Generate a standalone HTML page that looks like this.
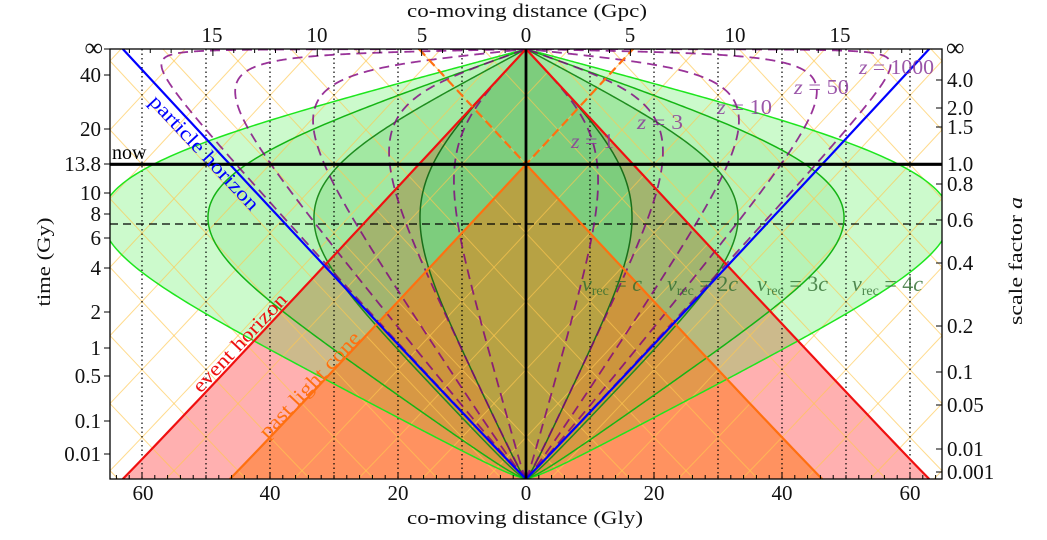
<!DOCTYPE html>
<html><head><meta charset="utf-8">
<style>
html,body{margin:0;padding:0;background:#fff;}
svg{display:block;font-family:"Liberation Serif","DejaVu Serif",serif;}
</style></head><body>
<svg id="s" width="1047" height="540" viewBox="0 0 1047 540" xmlns="http://www.w3.org/2000/svg">
<defs><clipPath id="cp"><rect x="110" y="49" width="832" height="430"/></clipPath></defs>
<rect x="0" y="0" width="1047" height="540" fill="#fff"/>
<g id="plot" clip-path="url(#cp)"></g>
<g id="ticks"></g>

<!-- in-plot labels -->
<g font-size="20">
<text x="112" y="159" fill="#000">now</text>
<text transform="translate(204,153) rotate(46.8)" text-anchor="middle" dy="6" fill="#0000ff" textLength="150" lengthAdjust="spacingAndGlyphs">particle horizon</text>
<text transform="translate(240,343) rotate(-46.8)" text-anchor="middle" dy="6" fill="#ee1111" textLength="128" lengthAdjust="spacingAndGlyphs">event horizon</text>
<text transform="translate(310,385) rotate(-46.8)" text-anchor="middle" dy="6" fill="#ff7010" textLength="138" lengthAdjust="spacingAndGlyphs">past light cone</text>
</g>
<g font-size="21" fill="#8a3a9a" fill-opacity="0.85">
<text x="571" y="148" textLength="43" lengthAdjust="spacingAndGlyphs"><tspan font-style="italic">z</tspan> = 1</text>
<text x="637" y="129" textLength="46" lengthAdjust="spacingAndGlyphs"><tspan font-style="italic">z</tspan> = 3</text>
<text x="717" y="114" textLength="55" lengthAdjust="spacingAndGlyphs"><tspan font-style="italic">z</tspan> = 10</text>
<text x="794" y="94" textLength="55" lengthAdjust="spacingAndGlyphs"><tspan font-style="italic">z</tspan> = 50</text>
<text x="859" y="74" textLength="75" lengthAdjust="spacingAndGlyphs"><tspan font-style="italic">z</tspan> = 1000</text>
</g>
<g font-size="22" fill="#2e6b2e" fill-opacity="0.8">
<text x="582" y="291"><tspan font-style="italic">v</tspan><tspan font-size="14" dy="4">rec</tspan><tspan dy="-4"> = </tspan><tspan font-style="italic">c</tspan></text>
<text x="667" y="291"><tspan font-style="italic">v</tspan><tspan font-size="14" dy="4">rec</tspan><tspan dy="-4"> = 2</tspan><tspan font-style="italic">c</tspan></text>
<text x="757" y="291"><tspan font-style="italic">v</tspan><tspan font-size="14" dy="4">rec</tspan><tspan dy="-4"> = 3</tspan><tspan font-style="italic">c</tspan></text>
<text x="852" y="291"><tspan font-style="italic">v</tspan><tspan font-size="14" dy="4">rec</tspan><tspan dy="-4"> = 4</tspan><tspan font-style="italic">c</tspan></text>
</g>

<!-- axis frame -->
<rect x="110" y="49" width="832" height="430" fill="none" stroke="#000" stroke-width="1.3"/>

<!-- axis labels -->
<g font-size="19" fill="#111">
<text x="407" y="17" textLength="240" lengthAdjust="spacingAndGlyphs">co-moving distance (Gpc)</text>
<text x="407" y="524" textLength="236" lengthAdjust="spacingAndGlyphs">co-moving distance (Gly)</text>
<text transform="translate(50,262) rotate(-90)" text-anchor="middle" textLength="89" lengthAdjust="spacingAndGlyphs">time (Gy)</text>
<text transform="translate(1022,261) rotate(-90)" text-anchor="middle" textLength="128" lengthAdjust="spacingAndGlyphs">scale factor <tspan font-style="italic">a</tspan></text>
</g>

<!-- top tick labels -->
<g font-size="21" fill="#111" text-anchor="middle">
<text x="212" y="42">15</text>
<text x="317" y="42">10</text>
<text x="422" y="42">5</text>
<text x="526" y="42">0</text>
<text x="630" y="42">5</text>
<text x="735" y="42">10</text>
<text x="840" y="42">15</text>
</g>
<!-- bottom tick labels -->
<g font-size="21" fill="#111" text-anchor="middle">
<text x="143" y="500">60</text>
<text x="270" y="500">40</text>
<text x="398" y="500">20</text>
<text x="526" y="500">0</text>
<text x="654" y="500">20</text>
<text x="782" y="500">40</text>
<text x="910" y="500">60</text>
</g>
<!-- left tick labels -->
<g font-size="21" fill="#111" text-anchor="end">
<text x="103" y="56" font-size="26">∞</text>
<text x="101" y="82">40</text>
<text x="101" y="136">20</text>
<text x="101" y="171">13.8</text>
<text x="101" y="200">10</text>
<text x="101" y="221">8</text>
<text x="101" y="245">6</text>
<text x="101" y="275">4</text>
<text x="101" y="319">2</text>
<text x="101" y="355">1</text>
<text x="101" y="383">0.5</text>
<text x="101" y="428">0.1</text>
<text x="101" y="461">0.01</text>
</g>
<!-- right tick labels -->
<g font-size="21" fill="#111" text-anchor="start">
<text x="946" y="56" font-size="26">∞</text>
<text x="947" y="87">4.0</text>
<text x="947" y="115">2.0</text>
<text x="947" y="134">1.5</text>
<text x="947" y="171">1.0</text>
<text x="947" y="191">0.8</text>
<text x="947" y="227">0.6</text>
<text x="947" y="270">0.4</text>
<text x="947" y="333">0.2</text>
<text x="947" y="379">0.1</text>
<text x="947" y="412">0.05</text>
<text x="947" y="456">0.01</text>
<text x="947" y="479">0.001</text>
</g>
</svg>
<script>
(function(){
var NS='http://www.w3.org/2000/svg';
var G=document.getElementById('plot'), T=document.getElementById('ticks');
function el(par,tag,at){var e=document.createElementNS(NS,tag);for(var k in at)e.setAttribute(k,at[k]);par.appendChild(e);return e;}
function P(pts){var s='M'+pts[0][0].toFixed(2)+','+pts[0][1].toFixed(2);for(var i=1;i<pts.length;i++)s+='L'+pts[i][0].toFixed(2)+','+pts[i][1].toFixed(2);return s;}

var Om=0.315, Or=9.1e-5, OL=1-Om-Or;
var L0=-16, L1=12, N=28000, h=(L1-L0)/N;
function F(a){return 1/Math.sqrt(Or/(a*a)+Om/a+OL*a*a);}
var eta=new Float64Array(N+1);
eta[0]=Math.exp(L0)/Math.sqrt(Or);
var prev=F(Math.exp(L0));
for(var i=1;i<=N;i++){var f=F(Math.exp(L0+i*h));eta[i]=eta[i-1]+0.5*h*(prev+f);prev=f;}
var etaInf=eta[N]+1/(Math.sqrt(OL)*Math.exp(L1));
function etaA(a){var l=Math.log(a);if(l<=L0)return a/Math.sqrt(Or);if(l>=L1)return etaInf-1/(Math.sqrt(OL)*a);var p=(l-L0)/h,j=Math.floor(p),t=p-j;if(j>=N)return eta[N];return eta[j]*(1-t)+eta[j+1]*t;}
var eta0=etaA(1);
var CH=14.55;
var X0=526, SX=6.4*CH, YB=479;
var pw=Math.log(314.7/430)/Math.log(eta0/etaInf);
function px(x){return X0+x*SX;}
function py(e){var r=e/etaInf;if(r<0)r=0;return YB-430*Math.pow(r,pw);}
var y0=py(eta0), yT=py(etaInf);
function seg(x1,e1,x2,e2){var r=[];for(var k=0;k<=60;k++){var t=k/60;r.push([px(x1+(x2-x1)*t),py(e1+(e2-e1)*t)]);}return r;}

// pink event-horizon region
el(G,'path',{d:P(seg(-etaInf,0,0,etaInf).concat(seg(0,etaInf,etaInf,0)))+'Z',fill:'#ff0000','fill-opacity':'0.31'});

// v_rec regions
function vc(n){var R=[];for(var i=0;i<=N;i+=20){var a=Math.exp(L0+i*h);R.push([px(n*F(a)),py(eta[i])]);}
 R.push([X0,yT]);
 var Lf=[];for(var k=R.length-1;k>=0;k--)Lf.push([2*X0-R[k][0],R[k][1]]);
 return {fill:P(R.concat(Lf))+'Z',r:P(R),l:P(Lf)};}
var c4=vc(4),c3=vc(3),c2=vc(2),c1=vc(1);
el(G,'path',{d:c4.fill,fill:'#00e600','fill-opacity':'0.2'});
el(G,'path',{d:c3.fill,fill:'#00be00','fill-opacity':'0.1'});
el(G,'path',{d:c2.fill,fill:'#009600','fill-opacity':'0.11'});
el(G,'path',{d:c1.fill,fill:'#7dcd7d'});

// orange past light cone region
el(G,'path',{d:P(seg(-eta0,0,0,eta0).concat(seg(0,eta0,eta0,0)))+'Z',fill:'#ff6e00','fill-opacity':'0.45'});

// light-ray grid
var gg=el(G,'g',{stroke:'#ffc850','stroke-opacity':'0.65','stroke-width':'1',fill:'none'});
var step=10/CH;
for(var k=-16;k<=16;k++){
 var c=k*step;
 el(gg,'path',{d:P(seg(c+eta0,0,c-(etaInf-eta0),etaInf))});
 el(gg,'path',{d:P(seg(c-eta0,0,c+(etaInf-eta0),etaInf))});
}

// dotted verticals
var dv=el(G,'g',{stroke:'#000','stroke-width':'1.2','stroke-dasharray':'1.5,3'});
for(var g=-60;g<=60;g+=10){if(g===0)continue;var xx=X0+6.4*g;el(dv,'line',{x1:xx,y1:49,x2:xx,y2:479});}

// dashed horizontal (acceleration onset)
el(G,'line',{x1:110,y1:224,x2:942,y2:224,stroke:'#000','stroke-width':'1.2','stroke-dasharray':'8,5'});

// v_rec boundaries
var gc=[[c4,'#1ee61e',1.5],[c3,'#14b414',1.5],[c2,'#1e8c1e',1.5],[c1,'#1a6e1a',1.5]];
gc.forEach(function(q){el(G,'path',{d:q[0].r,fill:'none',stroke:q[1],'stroke-width':q[2]});el(G,'path',{d:q[0].l,fill:'none',stroke:q[1],'stroke-width':q[2]});});

// constant-redshift curves
[1,3,10,50,1000].forEach(function(z){
 var R=[];for(var i=0;i<=N;i+=15){var a=Math.exp(L0+i*h);var x=eta[i]-etaA(a/(1+z));R.push([px(x),py(eta[i])]);}
 R.push([X0,yT]);
 var Lf=R.map(function(p){return [2*X0-p[0],p[1]];});
 var at={fill:'none',stroke:'#800080','stroke-opacity':'0.8','stroke-width':'1.8','stroke-dasharray':'10,6'};
 at.d=P(R);el(G,'path',at);
 var at2={};for(var k in at)at2[k]=at[k];at2.d=P(Lf);el(G,'path',at2);
});

// horizons and cones
el(G,'path',{d:P(seg(-etaInf,0,0,etaInf).concat(seg(0,etaInf,etaInf,0))),fill:'none',stroke:'#f01010','stroke-width':'2.2'});
el(G,'path',{d:P(seg(-eta0,0,0,eta0).concat(seg(0,eta0,eta0,0))),fill:'none',stroke:'#ff7010','stroke-width':'2.2'});
el(G,'path',{d:P(seg(-(etaInf-eta0),etaInf,0,eta0).concat(seg(0,eta0,etaInf-eta0,etaInf))),fill:'none',stroke:'#ff7010','stroke-width':'2.2','stroke-dasharray':'9,5'});
el(G,'path',{d:P(seg(-etaInf,etaInf,0,0).concat(seg(0,0,etaInf,etaInf))),fill:'none',stroke:'#0000ff','stroke-width':'2.2'});

// here and now
el(G,'line',{x1:X0,y1:49,x2:X0,y2:479,stroke:'#000','stroke-width':'2.8'});
el(G,'line',{x1:110,y1:y0,x2:942,y2:y0,stroke:'#000','stroke-width':'3.2'});

// ticks
var tk=el(T,'g',{stroke:'#000','stroke-width':'1'});
for(var g=-64;g<=64;g+=2){var xx=X0+6.4*g;var L=(g%20===0)?7:4;el(tk,'line',{x1:xx,y1:479,x2:xx,y2:479-L});}
for(var g=-19;g<=19;g++){var xx=X0+6.4*3.2616*g;if(xx<110||xx>942)continue;var L=(g%5===0)?7:4;el(tk,'line',{x1:xx,y1:49,x2:xx,y2:49+L});}
[49,75,129,164,193,214,238,268,312,348,376,421,454].forEach(function(y){el(tk,'line',{x1:104,y1:y,x2:110,y2:y});});
[49,80,108,127,164,184,220,263,326,372,405,449,472].forEach(function(y){el(tk,'line',{x1:936,y1:y,x2:942,y2:y});});
})();
</script>
</body></html>
